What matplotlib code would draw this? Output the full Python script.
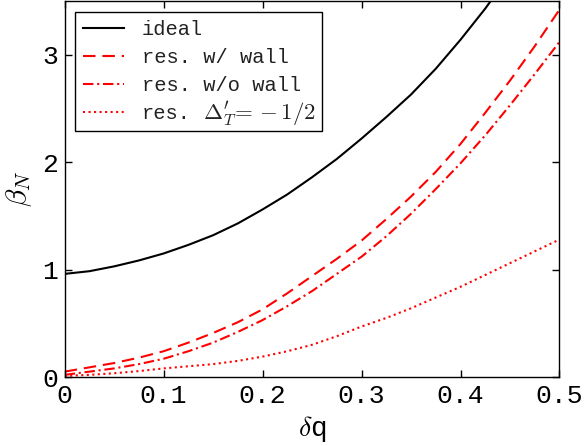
import numpy as np
from matplotlib import pyplot as plt

plt.rcParams['mathtext.fontset'] = 'cm'
plt.rcParams['font.family'] = ['Liberation Mono', 'DejaVu Sans']

# values (delta q -> beta_N)
dq = [0.0, 0.025, 0.05, 0.075, 0.1, 0.125, 0.15, 0.175, 0.2, 0.225, 0.25,
      0.275, 0.3, 0.325, 0.35, 0.375, 0.4, 0.425, 0.45, 0.475, 0.5]

beta_ideal = [0.96, 0.985, 1.03, 1.085, 1.15, 1.23, 1.32, 1.43, 1.56, 1.70, 1.86,
              2.03, 2.22, 2.42, 2.63, 2.87, 3.14, 3.43, 3.75, 4.08, 4.45]
beta_wall = [0.05, 0.09, 0.13, 0.18, 0.24, 0.32, 0.41, 0.51, 0.63, 0.78, 0.94,
             1.10, 1.27, 1.47, 1.68, 1.91, 2.17, 2.46, 2.76, 3.08, 3.42]
beta_nowall = [0.02, 0.05, 0.08, 0.12, 0.17, 0.24, 0.32, 0.42, 0.53, 0.66, 0.80,
               0.96, 1.12, 1.31, 1.52, 1.75, 1.99, 2.25, 2.53, 2.82, 3.12]
beta_delta = [0.01, 0.02, 0.035, 0.055, 0.08, 0.10, 0.12, 0.15, 0.19, 0.24, 0.30,
              0.38, 0.47, 0.55, 0.64, 0.74, 0.84, 0.95, 1.06, 1.17, 1.28]

# last label is only a width placeholder; its text is drawn on top afterwards
labels = ['ideal', 'res. w/ wall', 'res. w/o wall', 'res. MMMMMMMMM']
delta_prefix = 'res.'
delta_math = r"$\Delta^\prime_T\!=\,{-}\,1/2$"

LEG_FS = 14.7
TXT_COLOR = '#222222'


def plot_beta():
    fig = plt.figure(figsize=(5.85, 4.46), dpi=100)
    ax = fig.add_axes([0.1106, 0.1547, 0.8458, 0.843])

    ax.plot(dq, beta_ideal, color='black', lw=1.5, label=labels[0])
    ax.plot(dq, beta_wall, color='red', lw=1.5, dashes=(6, 3.3), label=labels[1])
    ax.plot(dq, beta_nowall, color='red', lw=1.5, dashes=(5, 1.8, 1, 1.8), label=labels[2])
    ax.plot(dq, beta_delta, color='red', lw=1.5, dashes=(1, 1.65), label=labels[3])

    ax.set_xlim(0, 0.5)
    ax.set_ylim(0, 3.5)
    ax.set_xticks(np.arange(0, 0.51, 0.1))
    ax.set_xticklabels(['0', '0.1', '0.2', '0.3', '0.4', '0.5'])
    ax.set_yticks([0, 1, 2, 3])
    ax.tick_params(which='both', direction='in', top=True, right=True,
                   length=5, width=1, labelsize=19, pad=5)
    for s in ax.spines.values():
        s.set_linewidth(1.0)

    ax.set_xlabel(r'$\delta$q', fontsize=20, labelpad=4)
    ax.set_ylabel(r'$\beta_N$', fontsize=21, labelpad=6)

    leg = ax.legend(loc='upper left', bbox_to_anchor=(0.02, 0.972), borderaxespad=0,
                    fontsize=LEG_FS, fancybox=False, framealpha=1, edgecolor='black',
                    handlelength=2.0, handletextpad=0.9, labelspacing=0.45)
    leg.get_frame().set_linewidth(1.0)
    for t in leg.get_texts():
        t.set_color(TXT_COLOR)
    t4 = leg.get_texts()[3]
    t4.set_alpha(0)

    # draw the last label by hand: mono prefix + larger math
    fig.canvas.draw()
    x_px, y_px = t4.get_transform().transform(t4.get_position())
    W, H = fig.canvas.get_width_height()
    fig.text(x_px / W, y_px / H, delta_prefix, fontsize=LEG_FS, ha='left', va='baseline',
             color=TXT_COLOR, zorder=10)
    x_px += 5 * 0.6 * LEG_FS * fig.dpi / 72
    fig.text(x_px / W, y_px / H, delta_math, fontsize=16.5, ha='left', va='baseline',
             color=TXT_COLOR, zorder=10)

    fig.savefig('out.png', dpi=100)


if __name__ == '__main__':
    plot_beta()
